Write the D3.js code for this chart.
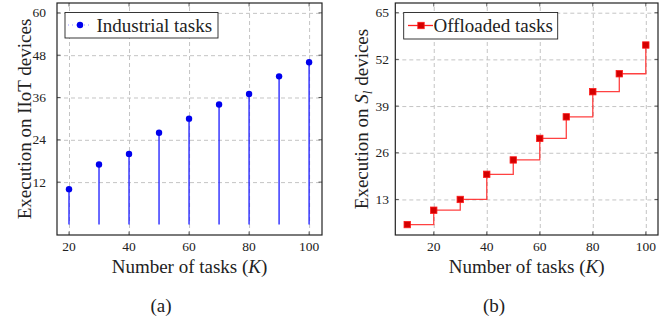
<!DOCTYPE html>
<html lang="en">
  <head>
    <meta charset="UTF-8" />
    <title>tasks</title>
    <style>
      body { margin: 0; background: #fff; }
      svg { display: block; }
      text { font-family: "Liberation Serif", "DejaVu Serif", serif; fill: #222; }
      .grid line { stroke: #c4c4c4; stroke-dasharray: 4 3; stroke-width: 1; }
      .grid path { display: none; }
    </style>
  </head>
  <body>
    <div class="container"></div>
    <script src="https://d3js.org/d3.v7.min.js"></script>
    <script>
      // data (a): industrial tasks executed on IIoT devices
      const tasksA = [20, 30, 40, 50, 60, 70, 80, 90, 100];
      const iiotExec = [10, 17, 20, 26, 30, 34, 37, 42, 46];
      const xTicksA = [20, 40, 60, 80, 100];
      const yTicksA = [12, 24, 36, 48, 60];

      // data (b): offloaded tasks executed on S_l devices
      const tasksB = [10, 20, 30, 40, 50, 60, 70, 80, 90, 100];
      const offloadExec = [6, 10, 13, 20, 24, 30, 36, 43, 48, 56];
      const xTicksB = [20, 40, 60, 80, 100];
      const yTicksB = [13, 26, 39, 52, 65];

      const svg = d3.select(".container").append("svg")
        .attr("width", 672).attr("height", 326);

      function panel(o) {
        const g = svg.append("g");
        const x = d3.scaleLinear().domain(o.xDom).range([o.left, o.right]);
        const y = d3.scaleLinear().domain(o.yDom).range([o.bottom, o.top]);
        const h = o.bottom - o.top, w = o.right - o.left;

        // grid
        g.append("g").attr("class", "grid")
          .attr("transform", `translate(0,${o.bottom})`)
          .call(d3.axisBottom(x).tickValues(o.xTicks).tickSize(-h).tickFormat(""));
        g.append("g").attr("class", "grid")
          .attr("transform", `translate(${o.left},0)`)
          .call(d3.axisLeft(y).tickValues(o.yTicks).tickSize(-w).tickFormat(""));

        // inside ticks on all sides
        const tk = g.append("g").attr("stroke", "#333").attr("stroke-width", 0.8);
        o.xTicks.forEach(v => {
          tk.append("line").attr("x1", x(v)).attr("x2", x(v)).attr("y1", o.bottom).attr("y2", o.bottom - 3.5);
          tk.append("line").attr("x1", x(v)).attr("x2", x(v)).attr("y1", o.top).attr("y2", o.top + 3.5);
        });
        o.yTicks.forEach(v => {
          tk.append("line").attr("y1", y(v)).attr("y2", y(v)).attr("x1", o.left).attr("x2", o.left + 3.5);
          tk.append("line").attr("y1", y(v)).attr("y2", y(v)).attr("x1", o.right).attr("x2", o.right - 3.5);
        });

        // tick labels
        g.selectAll(".xl").data(o.xTicks).enter().append("text")
          .attr("x", d => x(d)).attr("y", o.bottom + 15.5)
          .attr("text-anchor", "middle").style("font-size", "13.5px").text(d => d);
        g.selectAll(".yl").data(o.yTicks).enter().append("text")
          .attr("x", o.yLabX).attr("y", d => y(d) + 4.5)
          .attr("text-anchor", "end").style("font-size", "13.5px").text(d => d);

        // axis titles
        const xt = g.append("text").attr("x", (o.left + o.right) / 2).attr("y", o.bottom + 38)
          .attr("text-anchor", "middle").style("font-size", "19px");
        xt.append("tspan").text("Number of tasks (");
        xt.append("tspan").style("font-style", "italic").text("K");
        xt.append("tspan").text(")");

        const yt = g.append("text")
          .attr("transform", `translate(${o.yTitleX},${(o.top + o.bottom) / 2}) rotate(-90)`)
          .attr("text-anchor", "middle").style("font-size", "19px");
        o.yTitle(yt);

        g.append("text").attr("x", o.capX).attr("y", 312)
          .attr("text-anchor", "middle").style("font-size", "19px").text(o.caption);

        return { g, x, y };
      }

      // ---- (a)
      const A = panel({
        left: 57, right: 322, top: 3, bottom: 235,
        xDom: [16, 104.3], yDom: [-3, 62.8],
        xTicks: xTicksA, yTicks: yTicksA, yLabX: 46, yTitleX: 31,
        caption: "(a)", capX: 161,
        yTitle: t => t.text("Execution on IIoT devices")
      });
      A.g.selectAll(".stem").data(tasksA).enter().append("line")
        .attr("x1", d => A.x(d)).attr("x2", d => A.x(d))
        .attr("y1", A.y(0)).attr("y2", (d, i) => A.y(iiotExec[i]))
        .attr("stroke", "#1a1aff").attr("stroke-width", 1.3);
      A.g.selectAll(".dot").data(tasksA).enter().append("circle")
        .attr("cx", d => A.x(d)).attr("cy", (d, i) => A.y(iiotExec[i]))
        .attr("r", 3.2).attr("fill", "#0000ee");

      // legend (a)
      A.g.append("rect").attr("x", 65).attr("y", 12.5).attr("width", 153).attr("height", 25.5)
        .attr("fill", "#fff").attr("stroke", "#222").attr("stroke-width", 0.9);
      A.g.append("line").attr("x1", 68).attr("x2", 92).attr("y1", 25).attr("y2", 25)
        .attr("stroke", "#9999ff").attr("stroke-width", 1).attr("stroke-dasharray", "1 3");
      A.g.append("circle").attr("cx", 80).attr("cy", 25).attr("r", 3.2).attr("fill", "#0000ee");
      A.g.append("text").attr("x", 96.5).attr("y", 31.5).style("font-size", "19px").text("Industrial tasks");

      A.g.append("rect").attr("x", 57).attr("y", 3).attr("width", 265).attr("height", 232)
        .attr("fill", "none").attr("stroke", "#222").attr("stroke-width", 1.2);

      // ---- (b)
      const B = panel({
        left: 395.3, right: 658, top: 3, bottom: 235,
        xDom: [5.5, 104.6], yDom: [3.1, 67.7],
        xTicks: xTicksB, yTicks: yTicksB, yLabX: 389, yTitleX: 368,
        caption: "(b)", capX: 494,
        yTitle: t => {
          t.append("tspan").text("Execution on ");
          t.append("tspan").style("font-style", "italic").text("S");
          t.append("tspan").style("font-style", "italic").style("font-size", "13px").attr("dy", 4).text("l");
          t.append("tspan").attr("dy", -4).text(" devices");
        }
      });
      const stepLine = d3.line()
        .x(d => B.x(d[0])).y(d => B.y(d[1]))
        .curve(d3.curveStepAfter);
      B.g.append("path").datum(tasksB.map((d, i) => [d, offloadExec[i]]))
        .attr("d", stepLine).attr("fill", "none")
        .attr("stroke", "#ff2020").attr("stroke-opacity", 0.85).attr("stroke-width", 1.3);
      B.g.selectAll(".sq").data(tasksB).enter().append("rect")
        .attr("x", d => B.x(d) - 3.2).attr("y", (d, i) => B.y(offloadExec[i]) - 3.2)
        .attr("width", 6.4).attr("height", 6.4)
        .attr("fill", "#d40000").attr("stroke", "#ff1a1a").attr("stroke-width", 0.8);

      // legend (b)
      B.g.append("rect").attr("x", 403.7).attr("y", 12.5).attr("width", 154).attr("height", 26.5)
        .attr("fill", "#fff").attr("stroke", "#222").attr("stroke-width", 0.9);
      B.g.append("line").attr("x1", 408).attr("x2", 433).attr("y1", 25.5).attr("y2", 25.5)
        .attr("stroke", "#ff2020").attr("stroke-width", 1.3);
      B.g.append("rect").attr("x", 421 - 3.2).attr("y", 25.5 - 3.2).attr("width", 6.4).attr("height", 6.4)
        .attr("fill", "#d40000").attr("stroke", "#ff1a1a").attr("stroke-width", 0.8);
      B.g.append("text").attr("x", 433.5).attr("y", 32).style("font-size", "19px").text("Offloaded tasks");

      B.g.append("rect").attr("x", 395.3).attr("y", 3).attr("width", 262.7).attr("height", 232)
        .attr("fill", "none").attr("stroke", "#222").attr("stroke-width", 1.2);
    </script>
  </body>
</html>
